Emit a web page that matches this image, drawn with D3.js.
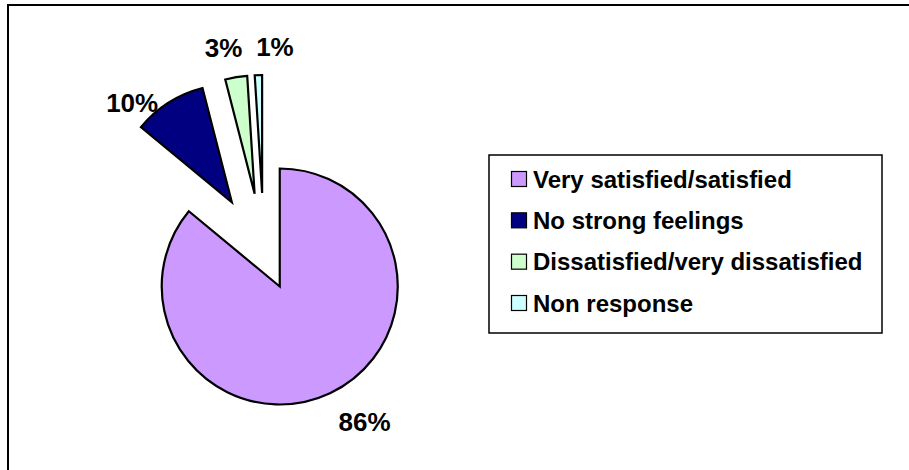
<!DOCTYPE html>
<html>
<head>
<meta charset="utf-8">
<script src="https://cdn.jsdelivr.net/npm/d3@7"></script>
<style>
  html, body { margin: 0; padding: 0; background: #fff; }
  svg { display: block; }
  text { font-family: "Liberation Sans", Arial, sans-serif; font-weight: bold; fill: #000; }
</style>
</head>
<body>
<svg id="chart" width="909" height="470"></svg>
<script>
// ---- data ----
const categories = ["Very satisfied/satisfied", "No strong feelings", "Dissatisfied/very dissatisfied", "Non response"];
const values = [86, 10, 3, 1];
const valueLabels = ["86%", "10%", "3%", "1%"];
const colors = ["#CC99FF", "#000080", "#CCFFCC", "#CCFFFF"];

// ---- layout ----
const W = 909, H = 470;
const svg = d3.select("#chart");

// outer frame (right/bottom edges fall outside the picture)
svg.append("rect")
  .attr("x", 8).attr("y", 5)
  .attr("width", W + 10).attr("height", H + 10)
  .attr("fill", "#fff").attr("stroke", "#000").attr("stroke-width", 2);

const cx = 264, cy = 253, radius = 118;
const explode = [37, 60, 60, 60];

const pie = d3.pie().sort(null).startAngle(0).endAngle(2 * Math.PI);
const arcs = pie(values);
const arcGen = d3.arc().innerRadius(0).outerRadius(radius);

const g = svg.append("g").attr("transform", `translate(${cx},${cy})`);

arcs.forEach((a, i) => {
  const mid = (a.startAngle + a.endAngle) / 2;
  a.dx = explode[i] * Math.sin(mid);
  a.dy = -explode[i] * Math.cos(mid);
  a.mid = mid;
});

g.selectAll("path.slice")
  .data(arcs)
  .join("path")
  .attr("class", "slice")
  .attr("transform", d => `translate(${d.dx},${d.dy})`)
  .attr("d", arcGen)
  .attr("fill", (d, i) => colors[i])
  .attr("stroke", "#000")
  .attr("stroke-width", 2.2)
  .attr("stroke-linejoin", "miter");

// data labels: placed from each slice's apex (angle in degrees, distance)
const labelPlace = [
  { ang: 148, dist: 160 },
  { ang: 315, dist: 141 },
  { ang: 348, dist: 149 },
  { ang: 5, dist: 147 }
];
g.selectAll("text.lbl")
  .data(arcs)
  .join("text")
  .attr("class", "lbl")
  .attr("x", (d, i) => d.dx + labelPlace[i].dist * Math.sin(labelPlace[i].ang * Math.PI / 180))
  .attr("y", (d, i) => d.dy - labelPlace[i].dist * Math.cos(labelPlace[i].ang * Math.PI / 180))
  .attr("text-anchor", "middle")
  .attr("dominant-baseline", "central")
  .style("font-size", "26px")
  .text((d, i) => valueLabels[i]);

// ---- legend ----
const lg = svg.append("g");
lg.append("rect")
  .attr("x", 489).attr("y", 155)
  .attr("width", 393).attr("height", 178)
  .attr("fill", "#fff").attr("stroke", "#000").attr("stroke-width", 1.5);

const rowY = d3.scalePoint().domain(categories).range([179, 303]);
const rows = lg.selectAll("g.row").data(categories).join("g")
  .attr("class", "row")
  .attr("transform", d => `translate(0,${rowY(d)})`);
rows.append("rect")
  .attr("x", 511.5).attr("y", -7.5)
  .attr("width", 15).attr("height", 15)
  .attr("fill", (d, i) => colors[i])
  .attr("stroke", "#000").attr("stroke-width", 1.2);
rows.append("text")
  .attr("x", 533).attr("y", 0)
  .attr("dominant-baseline", "central")
  .style("font-size", "24px")
  .text(d => d);
</script>
</body>
</html>
